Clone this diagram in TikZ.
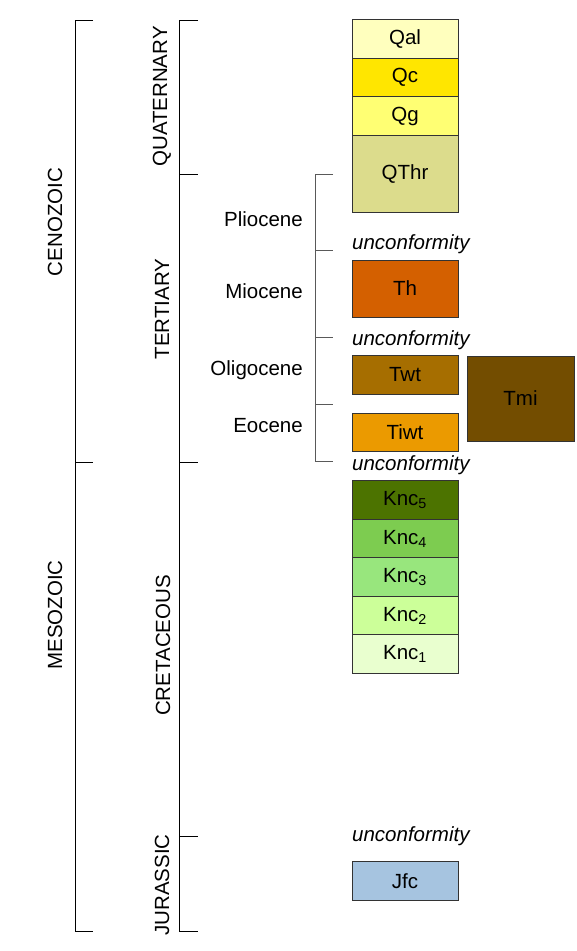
\documentclass[tikz,border=0pt]{standalone}
\usepackage{fontspec}
\setmainfont{Liberation Sans}
\usetikzlibrary{positioning}
\definecolor{cQal}{RGB}{255,255,190}
\definecolor{cQc}{RGB}{255,230,0}
\definecolor{cQg}{RGB}{255,255,115}
\definecolor{cQThr}{RGB}{220,220,140}
\definecolor{cTh}{RGB}{212,96,0}
\definecolor{cTwt}{RGB}{166,110,0}
\definecolor{cTiwt}{RGB}{235,154,0}
\definecolor{cTmi}{RGB}{115,77,0}
\definecolor{cKncv}{RGB}{76,115,0}
\definecolor{cKnciv}{RGB}{125,204,80}
\definecolor{cKnciii}{RGB}{152,230,125}
\definecolor{cKncii}{RGB}{204,255,153}
\definecolor{cKnci}{RGB}{233,255,207}
\definecolor{cJfc}{RGB}{166,196,224}
\newcommand{\labsize}{\fontsize{20.5}{24}\selectfont}
\tikzset{
    unit/.style={draw=black!80, line width=0.9pt, rectangle, minimum width=106pt, minimum height=38.5pt, inner sep=0pt, outer sep=0pt},
    era/.style={rotate=90, anchor=center, inner sep=0pt},
    epoch/.style={anchor=base east, inner sep=0pt},
    gap/.style={anchor=west, inner sep=0pt, font=\labsize\itshape},
    brace/.style={line width=0.8pt, black},
    ebrace/.style={line width=0.8pt, black!65} }
\newcommand{\knc}[1]{Knc$_{\mathrm{#1}}$}

\begin{document}
\begin{tikzpicture}[x=1pt, y=-1pt, node distance=0pt, font=\labsize]
			\useasboundingbox (0,0) rectangle (576,951);
			% ---- units
			\node[unit, fill=cQal] (Qal) at (405,39) {Qal};
			\node[unit, fill=cQc, below = of Qal] (Qc) {Qc};
			\node[unit, fill=cQg, below = of Qc] (Qg) {Qg};
			\node[unit, fill=cQThr, minimum height=77pt, below = of Qg] (QThr) {QThr};
			\node[unit, fill=cTh, minimum height=57pt] (Th) at (405,288.5) {Th};
			\node[unit, fill=cTwt] (Twt) at (405,375) {Twt};
			\node[unit, fill=cTiwt] (Tiwt) at (405,432.5) {Tiwt};
			\node[unit, fill=cTmi, minimum width=107pt, minimum height=85pt] (Tmi) at (520.5,398.5) {Tmi};
			\node[unit, fill=cKncv] (Kv) at (405,500) {\knc{5}};
			\node[unit, fill=cKnciv, below = of Kv] (Kiv) {\knc{4}};
			\node[unit, fill=cKnciii, below = of Kiv] (Kiii) {\knc{3}};
			\node[unit, fill=cKncii, below = of Kiii] (Kii) {\knc{2}};
			\node[unit, fill=cKnci, below = of Kii] (Ki) {\knc{1}};
			\node[unit, fill=cJfc] (Jfc) at (405,881) {Jfc};
			% ---- unconformities
			\node[gap] (u1) at (352,244) {unconformity};
			\node[gap] (u2) at (352,340) {unconformity};
			\node[gap] (u3) at (352,465) {unconformity};
			\node[gap] (u4) at (352,836) {unconformity};
			% ---- eras and periods
			\node[era] (Cz) at (55,222) {CENOZOIC};
			\node[era] (Mz) at (55,615) {MESOZOIC};
			\node[era] (Quat) at (162,96.5) {QUATERNARY};
			\node[era] (Tert) at (162,309) {TERTIARY};
			\node[era] (Cret) at (163,645.5) {CRETACEOUS};
			\node[era] (Jur) at (162,885) {JURASSIC};
			% ---- epochs
			\node[epoch] (Plio) at (303,226) {Pliocene};
			\node[epoch] (Mio) at (303,298.5) {Miocene};
			\node[epoch] (Oli) at (303,375) {Oligocene};
			\node[epoch] (Eo) at (303,432.5) {Eocene};
			% ---- brackets
			\coordinate (e0) at (75,20);
			\coordinate (e1) at (75,462);
			\coordinate (e2) at (75,931);
			\coordinate (p0) at (179,20);
			\coordinate (p1) at (179,174);
			\coordinate (p2) at (179,462);
			\coordinate (p3) at (179,836);
			\coordinate (p4) at (179,931);
			\coordinate (t0) at (315,174);
			\coordinate (t1) at (315,250);
			\coordinate (t2) at (315,337);
			\coordinate (t3) at (315,404);
			\coordinate (t4) at (315,461);

			\draw[brace] ([xshift=18pt]e0) -- (e0) -- (e2) -- ([xshift=18pt]e2);
			\draw[brace] (e1) -- ([xshift=18pt]e1);

			\draw[brace] ([xshift=19pt]p0) -- (p0) -- (p4) -- ([xshift=19pt]p4);
			\foreach \t in {p1,p2,p3}
				\draw[brace] (\t) -- ([xshift=19pt]\t);

			\draw[ebrace] ([xshift=18pt]t0) -- (t0) -- (t4) -- ([xshift=18pt]t4);
			\foreach \t in {t1,t2,t3}
				\draw[ebrace] (\t) -- ([xshift=18pt]\t);
		\end{tikzpicture}
\end{document}
